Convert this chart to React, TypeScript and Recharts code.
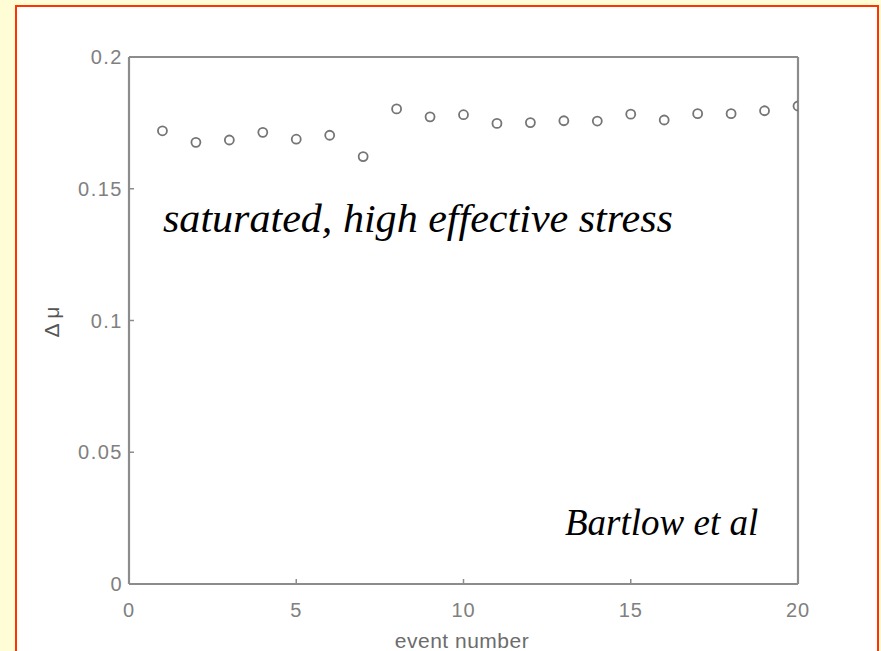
import React from 'react';
import { ScatterChart, Scatter, XAxis, YAxis } from 'recharts';

const eventNumbers = [1, 2, 3, 4, 5, 6, 7, 8, 9, 10, 11, 12, 13, 14, 15, 16, 17, 18, 19, 20];
const deltaMu = [
  0.172, 0.1676, 0.1685, 0.1714, 0.1688, 0.1703, 0.1622, 0.1803, 0.1773, 0.1781,
  0.1748, 0.1751, 0.1758, 0.1757, 0.1783, 0.1761, 0.1785, 0.1785, 0.1796, 0.1814,
];
const xTicks = [0, 5, 10, 15, 20];
const xTickLabels = ['0', '5', '10', '15', '20'];
const yTicks = [0, 0.05, 0.1, 0.15, 0.2];
const yTickLabels = ['0', '0.05', '0.1', '0.15', '0.2'];
const xAxisTitle = 'event number';
const yAxisTitle = 'Δ μ';
const annotationMain = 'saturated, high effective stress';
const annotationCredit = 'Bartlow et al';

const data = eventNumbers.map((e, i) => ({ x: e, y: deltaMu[i] }));

const AXIS = '#8c8c8c';
const LABEL = '#808080';
const TICK_FONT = '"Liberation Sans", Arial, sans-serif';

const labelFor = (ticks: number[], labels: string[], v: number) => {
  const i = ticks.findIndex((t) => Math.abs(t - v) < 1e-9);
  return i >= 0 ? labels[i] : String(v);
};

const BottomTick = (props: any) => {
  const { x, y, payload } = props;
  return (
    <g>
      <line x1={x} y1={y} x2={x} y2={y - 5} stroke={AXIS} strokeWidth={1.5} />
      <text x={x} y={y + 33} textAnchor="middle" fill={LABEL} fontSize={20} fontFamily={TICK_FONT} letterSpacing={1}>
        {labelFor(xTicks, xTickLabels, payload.value)}
      </text>
    </g>
  );
};

const LeftTick = (props: any) => {
  const { x, y, payload } = props;
  return (
    <g>
      <line x1={x} y1={y} x2={x + 5} y2={y} stroke={AXIS} strokeWidth={1.5} />
      <text x={x - 6} y={y + 7} textAnchor="end" fill={LABEL} fontSize={20} fontFamily={TICK_FONT} letterSpacing={1.5}>
        {labelFor(yTicks, yTickLabels, payload.value)}
      </text>
    </g>
  );
};

const TopTick = (props: any) => {
  const { x, y } = props;
  return <line x1={x} y1={y} x2={x} y2={y + 5} stroke={AXIS} strokeWidth={1.5} />;
};

const RightTick = (props: any) => {
  const { x, y } = props;
  return <line x1={x} y1={y} x2={x - 5} y2={y} stroke={AXIS} strokeWidth={1.5} />;
};

const OpenCircle = (props: any) => {
  const { cx, cy } = props;
  return <circle cx={cx} cy={cy} r={4.5} fill="none" stroke="#757575" strokeWidth={1.8} />;
};

export default function App() {
  return (
    <div
      style={{
        position: 'fixed',
        left: 0,
        top: 0,
        width: 881,
        height: 651,
        background: '#FFFDD6',
        overflow: 'hidden',
      }}
    >
      <div
        style={{
          position: 'absolute',
          left: 15,
          top: 5,
          width: 860,
          height: 700,
          border: '2px solid #FF3300',
          background: '#FFFFFF',
        }}
      />
      <div style={{ position: 'absolute', left: 0, top: 0 }}>
        <ScatterChart width={881} height={651} margin={{ top: 56, right: 82, bottom: 37, left: 69 }}>
          <XAxis
            xAxisId="bottom"
            type="number"
            dataKey="x"
            domain={[0, 20]}
            ticks={xTicks}
            interval={0}
            height={30}
            tickSize={0}
            tickMargin={0}
            tickLine={false}
            axisLine={{ stroke: AXIS, strokeWidth: 2.2 }}
            tick={<BottomTick />}
            allowDataOverflow
          />
          <XAxis
            xAxisId="top"
            orientation="top"
            type="number"
            dataKey="x"
            domain={[0, 20]}
            ticks={xTicks}
            interval={0}
            height={1}
            tickSize={0}
            tickMargin={0}
            tickLine={false}
            axisLine={{ stroke: AXIS, strokeWidth: 2.2 }}
            tick={<TopTick />}
          />
          <YAxis
            yAxisId="left"
            type="number"
            dataKey="y"
            domain={[0, 0.2]}
            ticks={yTicks}
            interval={0}
            width={60}
            tickSize={0}
            tickMargin={0}
            tickLine={false}
            axisLine={{ stroke: AXIS, strokeWidth: 2.2 }}
            tick={<LeftTick />}
            allowDataOverflow
          />
          <YAxis
            yAxisId="right"
            orientation="right"
            type="number"
            dataKey="y"
            domain={[0, 0.2]}
            ticks={yTicks}
            interval={0}
            width={1}
            tickSize={0}
            tickMargin={0}
            tickLine={false}
            axisLine={{ stroke: AXIS, strokeWidth: 2.2 }}
            tick={<RightTick />}
          />
          <Scatter
            data={data}
            xAxisId="bottom"
            yAxisId="left"
            shape={<OpenCircle />}
            isAnimationActive={false}
          />
        </ScatterChart>
      </div>
      <svg
        width={881}
        height={651}
        style={{ position: 'absolute', left: 0, top: 0, pointerEvents: 'none' }}
      >
        <text
          x={163}
          y={232}
          fontFamily='"Liberation Serif", "Times New Roman", serif'
          fontStyle="italic"
          fontSize={40}
          textLength={510}
          lengthAdjust="spacingAndGlyphs"
          fill="#000"
        >
          {annotationMain}
        </text>
        <text
          x={565}
          y={535}
          fontFamily='"Liberation Serif", "Times New Roman", serif'
          fontStyle="italic"
          fontSize={37}
          fill="#000"
        >
          {annotationCredit}
        </text>
        <text
          x={462}
          y={648}
          textAnchor="middle"
          fontFamily={TICK_FONT}
          fontSize={21}
          letterSpacing={0.5}
          fill="#6c6c6c"
        >
          {xAxisTitle}
        </text>
        <text
          x={59}
          y={322}
          textAnchor="middle"
          transform="rotate(-90 59 322)"
          fontFamily={TICK_FONT}
          fontSize={21}
          fill="#555"
        >
          {yAxisTitle}
        </text>
      </svg>
    </div>
  );
}
